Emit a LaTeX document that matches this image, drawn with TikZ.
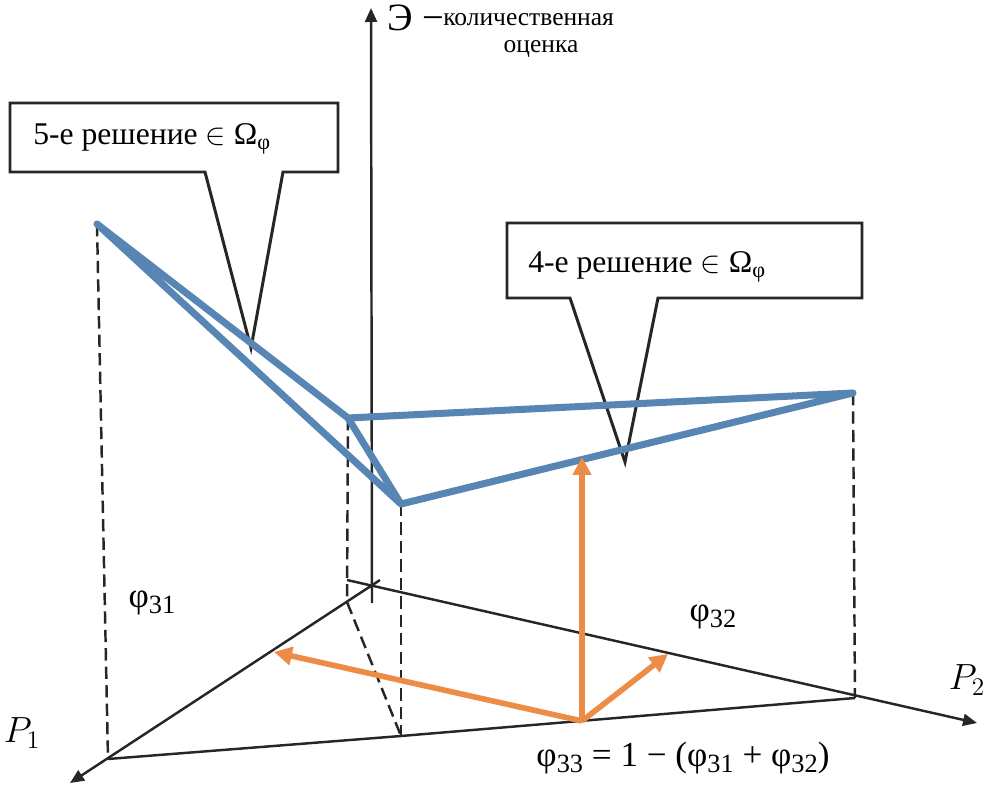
\documentclass[tikz,border=0pt]{standalone}
\usepackage{fontspec}
\setmainfont{Liberation Serif}
\newfontfamily\tnr{Liberation Serif}
\usetikzlibrary{arrows.meta}
\definecolor{SolBlue}{RGB}{88, 134, 180}
\definecolor{VecOrange}{RGB}{236, 140, 70}
\definecolor{AxGray}{RGB}{38, 38, 38}
\newcommand{\lowidx}[1]{\raisebox{-0.35ex}{\fontsize{15}{15}\selectfont #1}}

\begin{document}
\begin{tikzpicture}[x=0.02cm, y=-0.02cm, font=\tnr\fontsize{20}{22}\selectfont,
	ax/.style={-{Triangle[length=2.8mm, width=2.4mm]}, line width=1.4pt, AxGray},
	ln/.style={line width=1.4pt, AxGray},
	dsh/.style={line width=1.4pt, AxGray, dash pattern=on 7pt off 3.5pt},
	sol/.style={line width=4pt, SolBlue, line join=round, line cap=round},
	vec/.style={-{Triangle[length=3.6mm, width=3.6mm]}, line width=3.2pt, VecOrange},
	co/.style={draw=AxGray, line width=1.7pt, fill=white},
	lb/.style={inner sep=0pt}]
	\useasboundingbox (0,0) rectangle (985,787);
	% axes and base plane
	\coordinate (zt) at (371,8);   \coordinate (zb) at (372,603);
	\coordinate (p1s) at (380,580); \coordinate (p1e) at (70,783);
	\coordinate (p2s) at (347,580); \coordinate (p2e) at (977,723);
	\coordinate (b1) at (108,759); \coordinate (b2) at (401,736); \coordinate (b3) at (855,698);
	\coordinate (q) at (347,602);
	% solution points
	\coordinate (A) at (97,224);  \coordinate (B) at (348,418);
	\coordinate (C) at (401,504); \coordinate (D) at (853,393);
	% weights
	\coordinate (o) at (582,721); \coordinate (u) at (582,457);
	\coordinate (l) at (274,652); \coordinate (r) at (668,654);
	% callout tips
	\coordinate (k5) at (251,348); \coordinate (k4) at (625,462);

	\draw[ax] (zb)--(zt);
	\draw[ax] (p1s)--(p1e);
	\draw[ax] (p2s)--(p2e);
	\draw[ln] (b1)--(b2)--(b3);
	\draw[dsh] (A)--(b1); \draw[dsh] (B)--(q)--(b2);
	\draw[dsh] (C)--(b2); \draw[dsh] (D)--(b3);

	\draw[co] (10,103)--(338,103)--(338,172)--(283,172)--(k5)--(205,172)--(10,172)--cycle;
	\draw[co] (507,223)--(862,223)--(862,298)--(658,298)--(k4)--(570,298)--(507,298)--cycle;
	\node[lb, anchor=base west, font=\tnr\fontsize{18}{20}\selectfont] (s5) at (33,145) {5-е решение $\in$ Ω\textsubscript{φ}};
	\node[lb, anchor=base west, font=\tnr\fontsize{18}{20}\selectfont] (s4) at (528,273) {4-е решение $\in$ Ω\textsubscript{φ}};

	\draw[sol] (C)--(A)--(B)--(D)--(C)--(B);
	\draw[vec] (o)--(u); \draw[vec] (o)--(l); \draw[vec] (o)--(r);

	\node[lb, anchor=base west, font=\tnr\fontsize{22}{24}\selectfont] (ze) at (387,31) {Э −};
	\node[lb, anchor=base west, font=\tnr\fontsize{14.5}{16}\selectfont] (zq1) at (443,26) {количественная};
	\node[lb, anchor=base, font=\tnr\fontsize{14.5}{16}\selectfont] (zq2) at (541,53) {оценка};
	\node[lb] (f31) at (152,603) {φ\lowidx{31}};
	\node[lb] (f32) at (713,617) {φ\lowidx{32}};
	\node[lb] (f33) at (683,758) {φ\lowidx{33} = 1 − (φ\lowidx{31} + φ\lowidx{32})};
	\node[lb] (n1) at (22,733) {$P_1$};
	\node[lb] (n2) at (967,680) {$P_2$};
\end{tikzpicture}
\end{document}
